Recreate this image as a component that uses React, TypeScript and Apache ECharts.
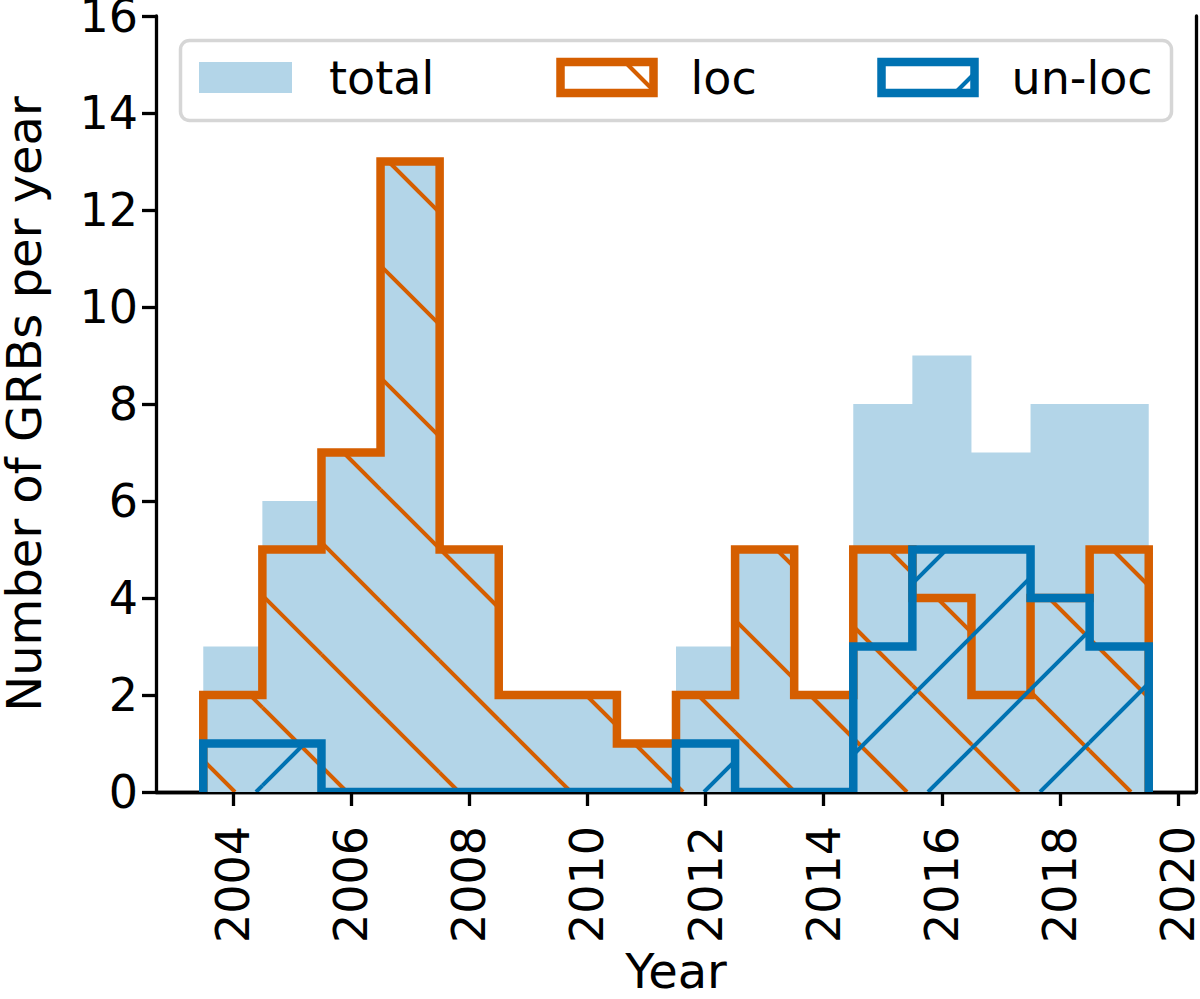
import React, { useEffect, useRef } from "react";
import * as echarts from "echarts";

// ---------- data ----------
const years = [2004, 2005, 2006, 2007, 2008, 2009, 2010, 2011, 2012, 2013, 2014, 2015, 2016, 2017, 2018, 2019];
const totalCounts = [3, 6, 7, 13, 5, 2, 2, 1, 3, 5, 2, 8, 9, 7, 8, 8];
const locCounts = [2, 5, 7, 13, 5, 2, 2, 1, 2, 5, 2, 5, 4, 2, 4, 5];
const unlocCounts = [1, 1, 0, 0, 0, 0, 0, 0, 1, 0, 0, 3, 5, 5, 4, 3];
const xTickValues = [2004, 2006, 2008, 2010, 2012, 2014, 2016, 2018, 2020];
const legendLabels = ["total", "loc", "un-loc"];
const xAxisTitle = "Year";
const yAxisTitle = "Number of GRBs per year";

// ---------- styles ----------
const FONT = "DejaVu Sans";
const FS = 46;
const NAME_FS = 48;
const TOTAL_COLOR = "#b3d5e8";
const LOC_COLOR = "#d55e00";
const UNLOC_COLOR = "#0072b2";
const HATCH_SPACING = 112;
const LOC_HATCH_OFFSET = 3; // lines x - y = offset + k*spacing
const UNLOC_HATCH_OFFSET = 40; // lines x + y = offset + k*spacing
const STEP_WIDTH = 8.5;
const HATCH_WIDTH = 4;

function stepPoints(values: number[]): number[][] {
  const pts: number[][] = [[years[0] - 0.5, 0]];
  values.forEach((v, i) => {
    pts.push([years[i] - 0.5, v]);
    pts.push([years[i] + 0.5, v]);
  });
  pts.push([years[years.length - 1] + 0.5, 0]);
  return pts;
}

// hatch segments inside pixel rect
function hatchSegments(x0: number, y0: number, x1: number, y1: number, kind: "back" | "fwd"): number[][] {
  const segs: number[][] = [];
  if (kind === "back") {
    const cMin = x0 - y1, cMax = x1 - y0;
    let k = Math.ceil((cMin - LOC_HATCH_OFFSET) / HATCH_SPACING);
    for (; LOC_HATCH_OFFSET + k * HATCH_SPACING <= cMax; k++) {
      const c = LOC_HATCH_OFFSET + k * HATCH_SPACING;
      const ya = Math.max(y0, x0 - c);
      const yb = Math.min(y1, x1 - c);
      if (yb - ya > 0.01) segs.push([c + ya, ya, c + yb, yb]);
    }
  } else {
    const cMin = x0 + y0, cMax = x1 + y1;
    let k = Math.ceil((cMin - UNLOC_HATCH_OFFSET) / HATCH_SPACING);
    for (; UNLOC_HATCH_OFFSET + k * HATCH_SPACING <= cMax; k++) {
      const c = UNLOC_HATCH_OFFSET + k * HATCH_SPACING;
      const ya = Math.max(y0, c - x1);
      const yb = Math.min(y1, c - x0);
      if (yb - ya > 0.01) segs.push([c - ya, ya, c - yb, yb]);
    }
  }
  return segs;
}

function hatchSeries(values: number[], kind: "back" | "fwd", color: string, z: number) {
  return {
    type: "custom",
    z,
    clip: true,
    silent: true,
    encode: { x: 0, y: 1 },
    data: years.map((y, i) => [y, values[i]]),
    renderItem: (_params: any, api: any) => {
      const x = api.value(0);
      const v = api.value(1);
      if (!(v > 0)) return { type: "group", children: [] };
      const a = api.coord([x - 0.5, v]);
      const b = api.coord([x + 0.5, 0]);
      const segs = hatchSegments(a[0], a[1], b[0], b[1], kind);
      return {
        type: "group",
        children: segs.map((s) => ({
          type: "line",
          shape: { x1: s[0], y1: s[1], x2: s[2], y2: s[3] },
          style: { stroke: color, lineWidth: HATCH_WIDTH },
        })),
      };
    },
  };
}

function stepSeries(values: number[], color: string, z: number) {
  return {
    type: "custom",
    z,
    clip: true,
    silent: true,
    encode: { x: 0, y: 1 },
    data: [[years[0], 0]],
    renderItem: (_params: any, api: any) => ({
      type: "polyline",
      shape: { points: stepPoints(values).map((p) => api.coord(p)) },
      style: { stroke: color, lineWidth: STEP_WIDTH, fill: null, lineJoin: "miter" },
    }),
  };
}

function legendGraphics() {
  const els: any[] = [];
  els.push({
    type: "rect",
    shape: { x: 180.5, y: 40.5, width: 991, height: 80, r: 9 },
    style: { fill: "rgba(255,255,255,0.8)", stroke: "#d6d6d6", lineWidth: 3.5 },
    z: 100,
  });
  const patchY = 62, patchW = 93, patchH = 31;
  const patchXs = [199, 560.5, 881.5];
  els.push({ type: "rect", shape: { x: patchXs[0], y: patchY, width: patchW, height: patchH }, style: { fill: TOTAL_COLOR }, z: 101 });
  hatchSegments(patchXs[1], patchY, patchXs[1] + patchW, patchY + patchH, "back").forEach((s) =>
    els.push({ type: "line", shape: { x1: s[0], y1: s[1], x2: s[2], y2: s[3] }, style: { stroke: LOC_COLOR, lineWidth: HATCH_WIDTH }, z: 101 })
  );
  els.push({ type: "rect", shape: { x: patchXs[1], y: patchY, width: patchW, height: patchH }, style: { fill: null, stroke: LOC_COLOR, lineWidth: STEP_WIDTH, lineJoin: "miter" }, z: 102 });
  hatchSegments(patchXs[2], patchY, patchXs[2] + patchW, patchY + patchH, "fwd").forEach((s) =>
    els.push({ type: "line", shape: { x1: s[0], y1: s[1], x2: s[2], y2: s[3] }, style: { stroke: UNLOC_COLOR, lineWidth: HATCH_WIDTH }, z: 101 })
  );
  els.push({ type: "rect", shape: { x: patchXs[2], y: patchY, width: patchW, height: patchH }, style: { fill: null, stroke: UNLOC_COLOR, lineWidth: STEP_WIDTH, lineJoin: "miter" }, z: 102 });
  legendLabels.forEach((t, i) => {
    els.push({
      type: "text",
      x: patchXs[i] + patchW + 37,
      y: patchY + patchH / 2,
      style: { text: t, fill: "#000", font: `${FS}px "${FONT}"`, verticalAlign: "middle", align: "left" },
      z: 103,
    });
  });
  return els;
}

export default function App() {
  const ref = useRef<HTMLDivElement>(null);
  useEffect(() => {
    if (!ref.current) return;
    const chart = echarts.init(ref.current, undefined, { renderer: "svg" });
    const axisLineStyle = { color: "#000", width: 3.3 };
    const option: any = {
      animation: false,
      backgroundColor: "#fff",
      textStyle: { fontFamily: FONT },
      grid: { left: 156, right: 4, top: 16, bottom: 207, containLabel: false, outerBoundsMode: "none" },
      xAxis: [
        {
          type: "value",
          min: 2002.7,
          max: 2020.3,
          name: xAxisTitle,
          nameLocation: "middle",
          nameGap: 156,
          nameMoveOverlap: false,
          nameTextStyle: { fontSize: NAME_FS, color: "#000", fontFamily: FONT, lineHeight: 46 },
          axisLine: { show: true, onZero: false, lineStyle: axisLineStyle },
          axisTick: { show: true, length: 14, lineStyle: axisLineStyle, customValues: xTickValues },
          axisLabel: {
            rotate: 90,
            fontSize: FS,
            color: "#000",
            fontFamily: FONT,
            margin: 34,
            customValues: xTickValues,
            formatter: (v: number) => String(Math.round(v)),
          },
          splitLine: { show: false },
        },
        {
          type: "value",
          position: "top",
          min: 2002.7,
          max: 2020.3,
          axisLine: { show: true, lineStyle: axisLineStyle },
          axisTick: { show: false },
          axisLabel: { show: false },
          splitLine: { show: false },
        },
      ],
      yAxis: [
        {
          type: "value",
          min: 0,
          max: 16,
          interval: 2,
          name: yAxisTitle,
          nameLocation: "middle",
          nameGap: 109,
          nameMoveOverlap: false,
          nameTextStyle: { fontSize: NAME_FS, color: "#000", fontFamily: FONT, lineHeight: 46 },
          axisLine: { show: true, onZero: false, lineStyle: axisLineStyle },
          axisTick: { show: true, length: 14, lineStyle: axisLineStyle },
          axisLabel: { fontSize: FS, color: "#000", fontFamily: FONT, margin: 18, lineHeight: 34, padding: [4, 0, 0, 0] },
          splitLine: { show: false },
        },
        {
          type: "value",
          position: "right",
          min: 0,
          max: 16,
          interval: 2,
          axisLine: { show: true, lineStyle: axisLineStyle },
          axisTick: { show: false },
          axisLabel: { show: false },
          splitLine: { show: false },
        },
      ],
      series: [
        {
          type: "custom",
          z: 1,
          clip: true,
          silent: true,
          encode: { x: 0, y: 1 },
          data: [[years[0], 0]],
          renderItem: (_p: any, api: any) => ({
            type: "polygon",
            shape: { points: stepPoints(totalCounts).map((p) => api.coord(p)) },
            style: { fill: TOTAL_COLOR },
          }),
        },
        hatchSeries(locCounts, "back", LOC_COLOR, 2),
        stepSeries(locCounts, LOC_COLOR, 3),
        hatchSeries(unlocCounts, "fwd", UNLOC_COLOR, 4),
        stepSeries(unlocCounts, UNLOC_COLOR, 5),
      ],
      graphic: legendGraphics(),
    };
    chart.setOption(option);
    return () => chart.dispose();
  }, []);
  return (
    <div
      ref={ref}
      style={{ position: "absolute", left: 0, top: 0, width: 1200, height: 999 }}
    />
  );
}
